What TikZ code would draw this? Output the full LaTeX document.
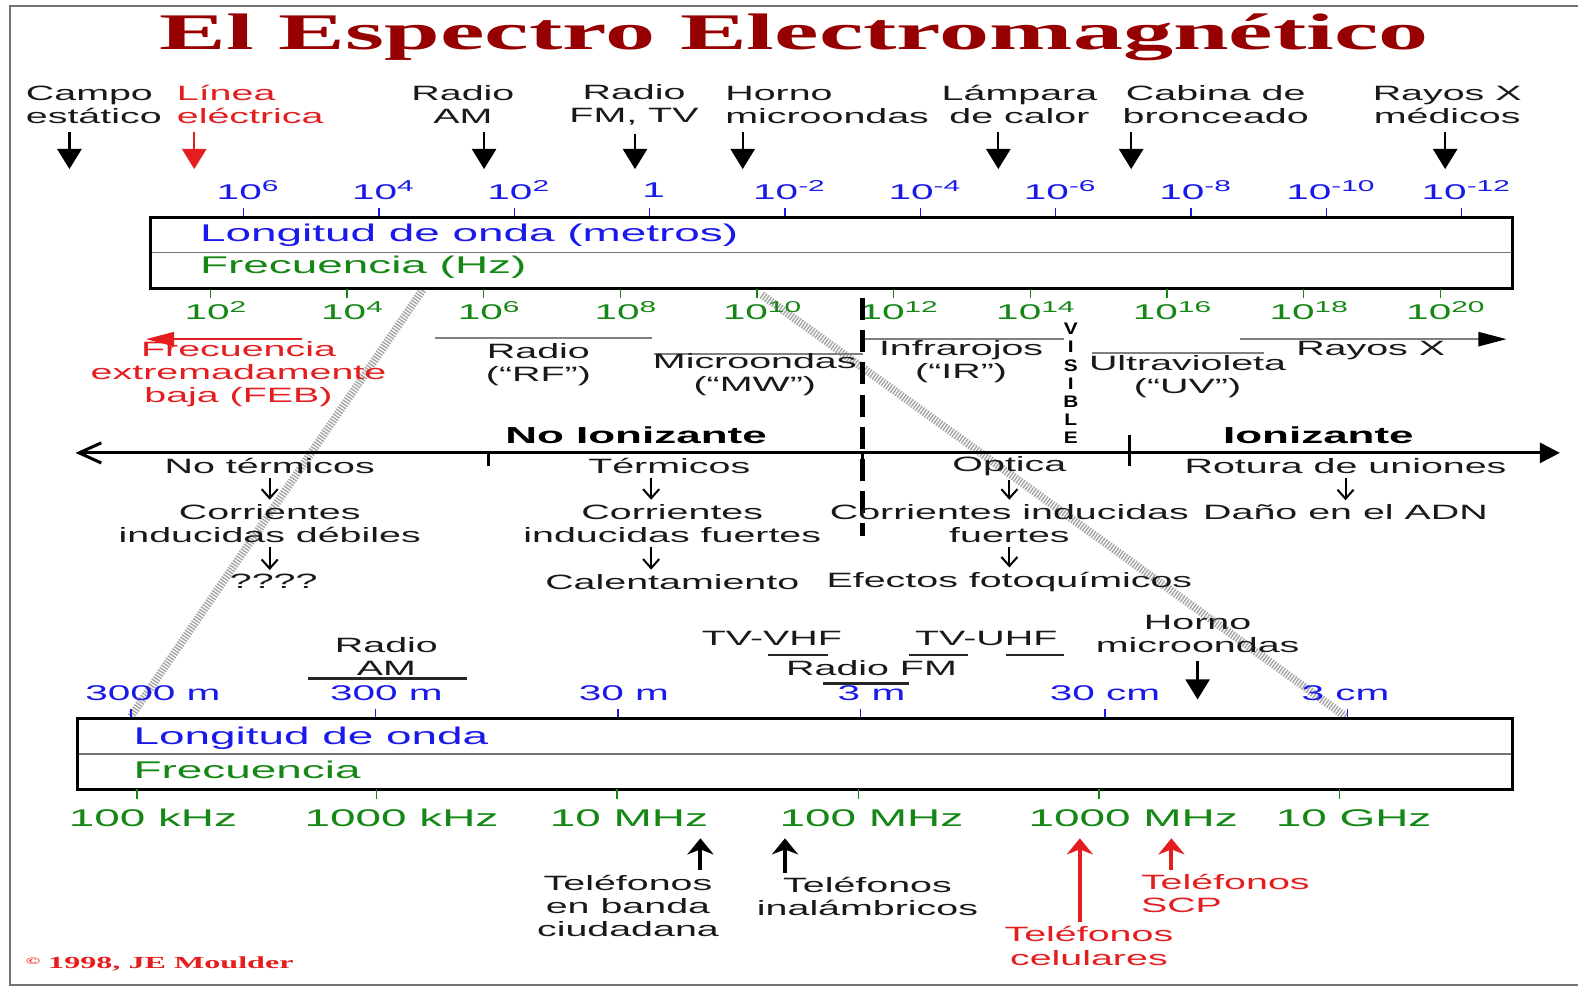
\documentclass[tikz,border=0pt]{standalone}
\usepackage{fontspec}
\usepackage{tikz}
\usetikzlibrary{arrows.meta,calc,positioning}
\newfontfamily\emsans{Liberation Sans}
\newfontfamily\emserif{Liberation Serif}
\definecolor{emblue}{RGB}{25,25,235}
\definecolor{emgreen}{RGB}{20,135,20}
\definecolor{emred}{RGB}{228,30,30}
\definecolor{emtitle}{RGB}{150,0,0}
\newcommand\emsup[1]{\raisebox{3.6pt}{\fontsize{7.8}{8}\selectfont #1}}
\tikzset{
  em title/.style={font=\emserif\bfseries\fontsize{25.5}{28}\selectfont,xscale=1.95,inner sep=0pt,text=emtitle},
  em text/.style={font=\emsans\fontsize{10.3}{11.5}\selectfont,xscale=1.9,inner sep=0pt,align=center,text=black!90},
  em big/.style={em text,font=\emsans\fontsize{12}{13}\selectfont},
  em num/.style={em text,font=\emsans\fontsize{10.6}{12}\selectfont},
  em head/.style={em text,font=\emsans\bfseries\fontsize{11.5}{13}\selectfont,text=black},
  em frame/.style={draw=black!55,line width=0.8pt},
  em box/.style={draw=black,line width=1.5pt},
  em divider/.style={draw=black!55,line width=0.8pt},
  em tick/.style={line width=0.7pt},
  em band/.style={draw=black!50,line width=1.2pt},
  em under/.style={draw=black!85,line width=1.3pt},
  em bigdown/.style={line width=1.1pt,shorten <=4pt,-{Triangle[length=10pt,width=12pt]}},
  em smalldown/.style={line width=1pt,shorten <=2pt,shorten >=2pt,-{Straight Barb[length=4.5pt,width=8pt]}},
  em up/.style={line width=2pt,shorten <=2pt,-{Stealth[length=8pt,width=13pt,inset=2.5pt]}},
  em hatch/.style={draw=black!35,line width=4pt,dash pattern=on 0.7pt off 0.7pt},
  em cut/.style={line width=2.6pt,dash pattern=on 11pt off 5pt},
  em axis/.style={line width=1.5pt,{Straight Barb[length=11pt,width=10pt]}-{Triangle[length=10pt,width=10pt]}}
}

\begin{document}
\begin{tikzpicture}[x=0.5pt,y=-0.5pt]
  \useasboundingbox (0,0) rectangle (1568,980);
  \coordinate (lzA) at (420,288);
  \coordinate (lzB) at (130,712);
  \coordinate (rzA) at (757,293);
  \coordinate (rzB) at (1337,712);
  \draw[em hatch] (lzA) -- (lzB);
  \draw[em hatch] (rzA) -- (rzB);
  \draw[em frame] (1568,6) -- (10,6) -- (10,979) -- (1568,979);

  \node[em title,anchor=base] (title) at (789,49) {El Espectro Electromagnético};

  % sources along the top
  \node[em text,align=left,anchor=west] (campo) at (25,104) {Campo\\estático};
  \node[em text,align=left,anchor=west,text=emred] (linea) at (175,104) {Línea\\eléctrica};
  \node[em text] (radioam) at (460,104) {Radio\\AM};
  \node[em text] (radiofm) at (630,104) {Radio\\FM, TV};
  \node[em text,align=left,anchor=west] (horno) at (720,104) {Horno\\microondas};
  \node[em text] (lampara) at (1013,104) {Lámpara\\de calor};
  \node[em text] (cabina) at (1208,104) {Cabina de\\bronceado};
  \node[em text] (rayos) at (1438,104) {Rayos X\\médicos};
  \foreach \nm/\ax in {campo/69,radioam/481,radiofm/631,horno/738,lampara/992,cabina/1124,rayos/1436}{
    \coordinate (\nm tip) at (\ax,168);
    \draw[em bigdown] (\nm.south -| \nm tip) -- (\nm tip);
  }
  \coordinate (linea tip) at (193,168);
  \draw[em bigdown,emred] (linea.south -| linea tip) -- (linea tip);

  % upper scale
  \foreach \lab [count=\i from 0] in {10\emsup{6},10\emsup{4},10\emsup{2},1,10\emsup{-2},10\emsup{-4},10\emsup{-6},10\emsup{-8},10\emsup{-10},10\emsup{-12}}{
    \coordinate (wt\i) at ({242+134.5*\i},216);
    \draw[em tick,emblue] (wt\i) -- ++(0,-9);
    \node[em num,text=emblue] (wl\i) at ({246+134.5*\i},189) {\lab};
  }
  \coordinate (topbox nw) at (150,216);
  \coordinate (topbox se) at (1503,287);
  \draw[em divider] (150,251) -- (1503,251);
  \draw[em box] (topbox nw) rectangle (topbox se);
  \node[em big,text=emblue,anchor=west] (wlname) at (198,234) {Longitud de onda (metros)};
  \node[em big,text=emgreen,anchor=west] (fqname) at (198,266) {Frecuencia (Hz)};
  \foreach \e [count=\i from 0] in {2,4,6,8,10,12,14,16,18,20}{
    \coordinate (ft\i) at ({209+135.8*\i},287);
    \draw[em tick,emgreen] (ft\i) -- ++(0,9);
    \node[em num,text=emgreen] (fl\i) at ({214+135.8*\i},309) {10\emsup{\e}};
  }

  % bands
  \coordinate (feb start) at (300,337);
  \coordinate (feb end) at (145,337);
  \draw[em band,draw=emred,-{Triangle[length=14pt,width=7pt]}] (feb start) -- (feb end);
  \node[em text,text=emred] (feb) at (237,372) {Frecuencia\\extremadamente\\baja (FEB)};
  \draw[em band] (432,336) -- (648,336);
  \node[em text] (rf) at (535,362) {Radio\\(“RF”)};
  \draw[em band] (650,352) -- (858,352);
  \node[em text] (mw) at (750,372) {Microondas\\(“MW”)};
  \draw[em band] (858,337) -- (1057,337);
  \node[em text] (ir) at (955,359) {Infrarojos\\(“IR”)};
  \node[font=\emsans\bfseries\fontsize{8.3}{9}\selectfont,xscale=1.25,align=center,inner sep=0pt] (vis) at (1064,381) {V\\I\\S\\I\\B\\L\\E};
  \draw[em band] (1085,351) -- (1256,351);
  \node[em text] (uv) at (1180,374) {Ultravioleta\\(“UV”)};
  \coordinate (xr start) at (1232,337);
  \coordinate (xr end) at (1497,337);
  \draw[em band,-{Triangle[length=14pt,width=7pt,color=black]}] (xr start) -- (xr end);
  \node[em text] (xr) at (1362,348) {Rayos X};
  \draw[em cut] (857,296) -- (857,533);

  % ionising axis
  \coordinate (axL) at (75,450);
  \coordinate (axR) at (1550,450);
  \draw[em axis] (axL) -- (axR);
  \draw[line width=1.5pt] (485,450) -- (485,463);
  \draw[line width=1.5pt] (857,450) -- (857,460);
  \draw[line width=1.5pt] (1122,432) -- (1122,463);
  \node[em head] (noion) at (632,432) {No Ionizante};
  \node[em head] (ion) at (1310,432) {Ionizante};

  \node[em text] (nt) at (268,463) {No térmicos};
  \node[em text] (cd) at (268,520) {Corrientes\\inducidas débiles};
  \node[em text] (qq) at (272,578) {????};
  \node[em text] (te) at (665,463) {Térmicos};
  \node[em text] (cf) at (668,520) {Corrientes\\inducidas fuertes};
  \node[em text] (ca) at (668,578) {Calentamiento};
  \node[em text] (op) at (1003,463) {Optica};
  \node[em text] (ci) at (1003,520) {Corrientes inducidas\\fuertes};
  \node[em text] (ef) at (1003,578) {Efectos fotoquímicos};
  \node[em text] (ru) at (1337,463) {Rotura de uniones};
  \node[em text] (da) at (1337,509) {Daño en el ADN};
  \draw[em smalldown] (nt.south) -- (nt.south |- cd.north);
  \draw[em smalldown] (cd.south) -- (cd.south |- qq.north);
  \draw[em smalldown] ([xshift=-9pt]te.south) -- ([xshift=-9pt]te.south |- cf.north);
  \draw[em smalldown] ([xshift=-9pt]te.south |- cf.south) -- ([xshift=-9pt]te.south |- ca.north);
  \draw[em smalldown] (op.south) -- (op.south |- ci.north);
  \draw[em smalldown] (ci.south) -- (ci.south |- ef.north);
  \draw[em smalldown] (ru.south) -- (ru.south |- da.north);

  % lower scale
  \node[em text] (am) at (384,652) {Radio\\AM};
  \draw[em under] (306,674) -- (464,674);
  \node[em text] (vhf) at (767,634) {TV-VHF};
  \draw[em under] (763,651) -- (823,651);
  \node[em text] (uhf) at (980,634) {TV-UHF};
  \draw[em under] (903,651) -- (962,651);
  \draw[em under] (1000,651) -- (1057,651);
  \node[em text] (fm) at (866,664) {Radio FM};
  \draw[em under] (818,679) -- (903,679);
  \node[em text] (mo) at (1190,630) {Horno\\microondas};
  \coordinate (mo tip) at (1190,695);
  \draw[em bigdown] (mo.south) -- (mo tip);

  \foreach \tx/\lx/\lab [count=\i] in {130/152/3000 m,373/384/300 m,614/620/30 m,855/866/3 m,1098/1098/30 cm,1339/1337/3 cm}{
    \coordinate (bwt\i) at (\tx,714);
    \draw[em tick,emblue] (bwt\i) -- ++(0,-10);
    \node[em num,text=emblue] (bwl\i) at (\lx,689) {\lab};
  }
  \coordinate (lowbox nw) at (77,714);
  \coordinate (lowbox se) at (1503,784);
  \draw[em divider] (77,749) -- (1503,749);
  \draw[em box] (lowbox nw) rectangle (lowbox se);
  \node[em big,text=emblue,anchor=west] (lwname) at (132,734) {Longitud de onda};
  \node[em big,text=emgreen,anchor=west] (lfname) at (132,765) {Frecuencia};
  \foreach \tx/\lx/\lab [count=\i] in {136/152/100 kHz,374/399/1000 kHz,613/625/10 MHz,853/866/100 MHz,1092/1126/1000 MHz,1331/1345/10 GHz}{
    \coordinate (bft\i) at (\tx,784);
    \draw[em tick,emgreen] (bft\i) -- ++(0,10);
    \node[em big,text=emgreen] (bfl\i) at (\lx,813) {\lab};
  }

  % phones
  \node[em text] (cb) at (624,900) {Teléfonos\\en banda\\ciudadana};
  \node[em text] (ina) at (862,891) {Teléfonos\\inalámbricos};
  \node[em text,text=emred] (cel) at (1082,940) {Teléfonos\\celulares};
  \node[em text,text=emred,align=left,anchor=west] (scp) at (1133,888) {Teléfonos\\SCP};
  \coordinate (cb tip) at (696,833);
  \coordinate (ina tip) at (780,833);
  \coordinate (cel tip) at (1073,833);
  \coordinate (scp tip) at (1164,833);
  \draw[em up] (cb.north -| cb tip) -- (cb tip);
  \draw[em up] (ina.north -| ina tip) -- (ina tip);
  \draw[em up,emred] (cel.north -| cel tip) -- (cel tip);
  \draw[em up,emred] (scp.north -| scp tip) -- (scp tip);

  \node[font=\emserif\bfseries\fontsize{8.4}{9}\selectfont,xscale=1.9,inner sep=0pt,text=emred,anchor=west] (copy) at (25,958) {\raisebox{2pt}{\fontsize{5}{5}\selectfont ©} 1998, JE Moulder};
\end{tikzpicture}
\end{document}
